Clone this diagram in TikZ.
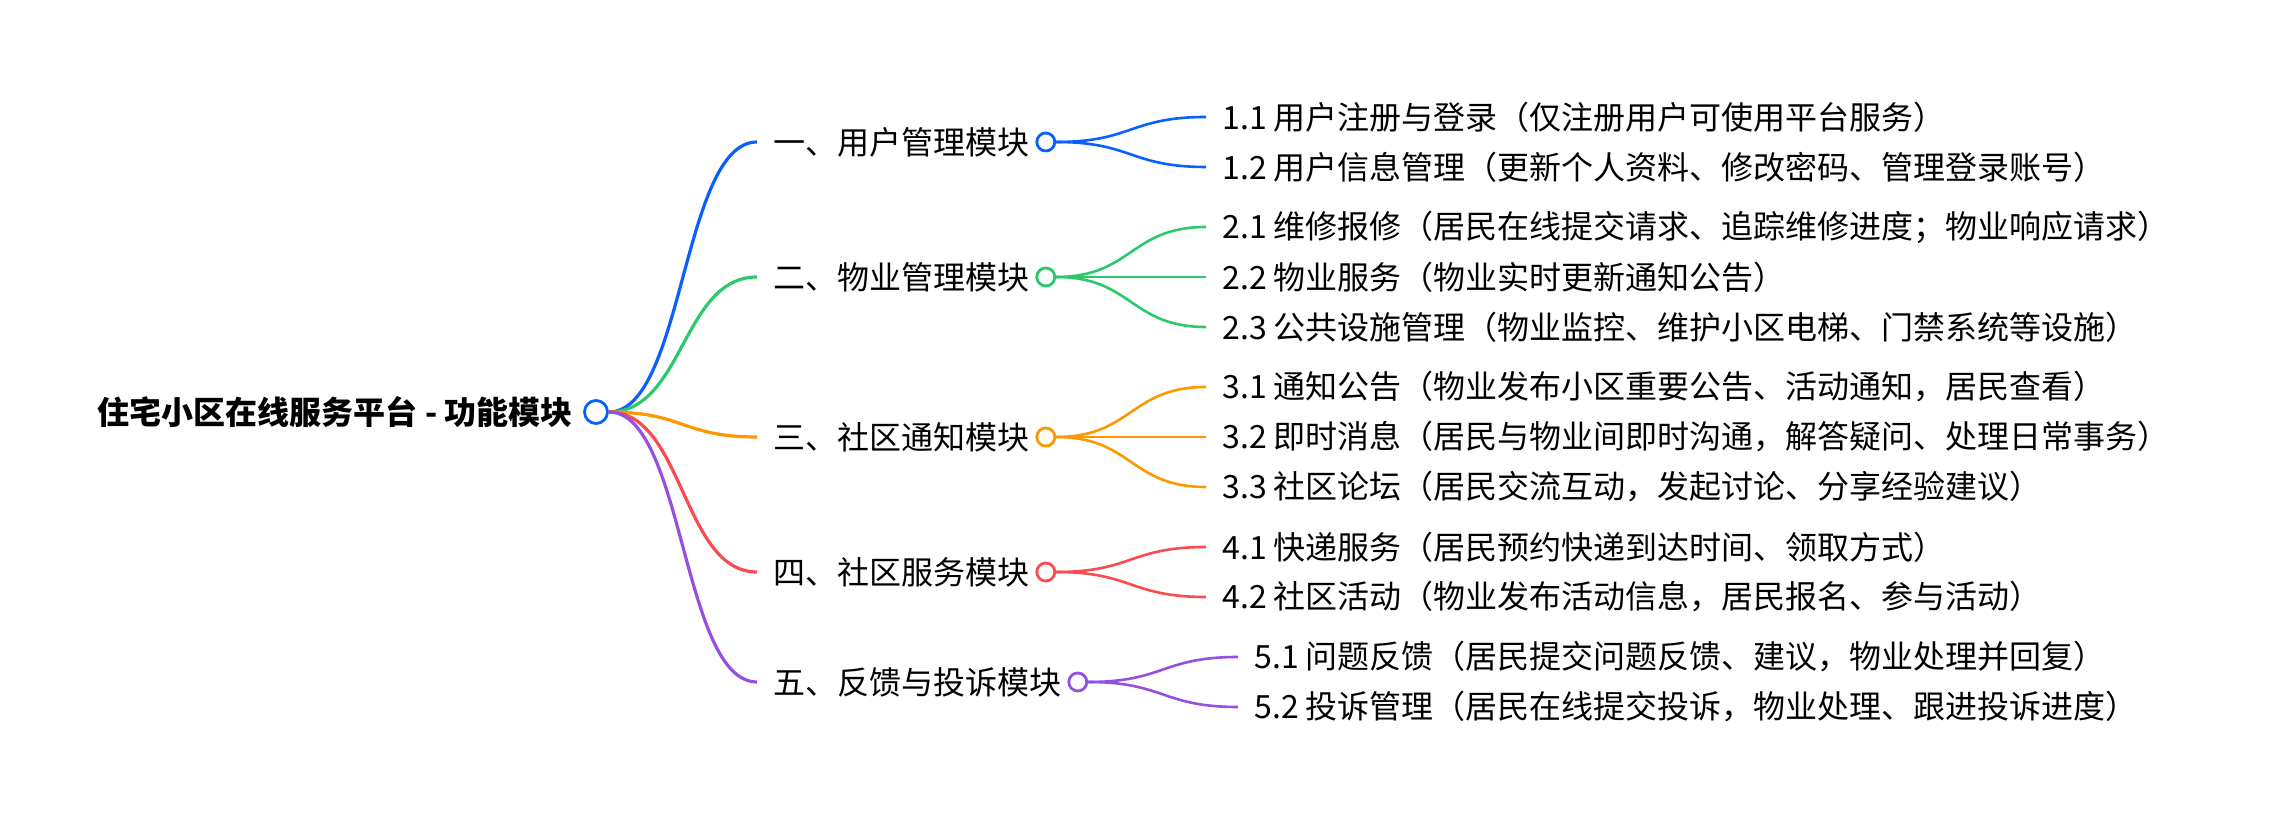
\documentclass[tikz,border=0pt]{standalone}
\usepackage{fontspec}
\newfontfamily\cjk{Noto Sans CJK SC}
\definecolor{mmblue}{RGB}{10,95,255}
\definecolor{mmgreen}{RGB}{44,201,107}
\definecolor{mmorange}{RGB}{255,152,0}
\definecolor{mmred}{RGB}{250,75,80}
\definecolor{mmpurple}{RGB}{150,80,225}
\usetikzlibrary{positioning}

\begin{document}
\begin{tikzpicture}[x=0.5pt,y=-0.5pt,
  every node/.style={font=\cjk\fontsize{16}{19}\selectfont},
  topic/.style={inner sep=0pt,inner xsep=8pt,anchor=west},
  leaf/.style={inner sep=0pt,inner xsep=8pt,anchor=west},
  dot/.style={circle,draw=#1,line width=1.4pt,fill=white,minimum size=9pt,inner sep=0pt},
  trunk/.style={draw=#1,line width=1.6pt},
  twig/.style={draw=#1,line width=1.3pt}]
  \useasboundingbox (0,0) rectangle (2272,822);
  % Root
  \node[dot=mmblue,minimum size=11.5pt] (root) at (596,412) {};
  \node[left=5pt of root,inner sep=0pt,font=\cjk\bfseries\fontsize{16}{19}\selectfont] (title) {住宅小区在线服务平台 - 功能模块};
  % Modules
  \node[topic] (m1) at (757,142) {一、用户管理模块};
  \node[dot=mmblue] (d1) at (m1.east) {};
  \node[topic] (m2) at (757,277) {二、物业管理模块};
  \node[dot=mmgreen] (d2) at (m2.east) {};
  \node[topic] (m3) at (757,437) {三、社区通知模块};
  \node[dot=mmorange] (d3) at (m3.east) {};
  \node[topic] (m4) at (757,572) {四、社区服务模块};
  \node[dot=mmred] (d4) at (m4.east) {};
  \node[topic] (m5) at (757,682) {五、反馈与投诉模块};
  \node[dot=mmpurple] (d5) at (m5.east) {};
  % Module 1
  \node[leaf] (m11) at (1206,117) {1.1 用户注册与登录（仅注册用户可使用平台服务）};
  \node[leaf] (m12) at (1206,167) {1.2 用户信息管理（更新个人资料、修改密码、管理登录账号）};
  % Module 2
  \node[leaf] (m21) at (1206,227) {2.1 维修报修（居民在线提交请求、追踪维修进度；物业响应请求）};
  \node[leaf] (m22) at (1206,277) {2.2 物业服务（物业实时更新通知公告）};
  \node[leaf] (m23) at (1206,327) {2.3 公共设施管理（物业监控、维护小区电梯、门禁系统等设施）};
  % Module 3
  \node[leaf] (m31) at (1206,387) {3.1 通知公告（物业发布小区重要公告、活动通知，居民查看）};
  \node[leaf] (m32) at (1206,437) {3.2 即时消息（居民与物业间即时沟通，解答疑问、处理日常事务）};
  \node[leaf] (m33) at (1206,487) {3.3 社区论坛（居民交流互动，发起讨论、分享经验建议）};
  % Module 4
  \node[leaf] (m41) at (1206,547) {4.1 快递服务（居民预约快递到达时间、领取方式）};
  \node[leaf] (m42) at (1206,597) {4.2 社区活动（物业发布活动信息，居民报名、参与活动）};
  % Module 5
  \node[leaf] (m51) at (1238,657) {5.1 问题反馈（居民提交问题反馈、建议，物业处理并回复）};
  \node[leaf] (m52) at (1238,707) {5.2 投诉管理（居民在线提交投诉，物业处理、跟进投诉进度）};
  % Root branches
  \draw[trunk=mmblue] (root.east) .. controls +(75,0) and +(-75,0) .. (m1.west);
  \draw[trunk=mmgreen] (root.east) .. controls +(75,0) and +(-75,0) .. (m2.west);
  \draw[trunk=mmorange] (root.east) .. controls +(75,0) and +(-75,0) .. (m3.west);
  \draw[trunk=mmred] (root.east) .. controls +(75,0) and +(-75,0) .. (m4.west);
  \draw[trunk=mmpurple] (root.east) .. controls +(75,0) and +(-75,0) .. (m5.west);
  % Leaf branches
  \draw[twig=mmblue] (d1.east) .. controls +(76,0) and +(-76,0) .. (m11.west);
  \draw[twig=mmblue] (d1.east) .. controls +(76,0) and +(-76,0) .. (m12.west);
  \draw[twig=mmgreen] (d2.east) .. controls +(76,0) and +(-76,0) .. (m21.west);
  \draw[twig=mmgreen] (d2.east) .. controls +(76,0) and +(-76,0) .. (m22.west);
  \draw[twig=mmgreen] (d2.east) .. controls +(76,0) and +(-76,0) .. (m23.west);
  \draw[twig=mmorange] (d3.east) .. controls +(76,0) and +(-76,0) .. (m31.west);
  \draw[twig=mmorange] (d3.east) .. controls +(76,0) and +(-76,0) .. (m32.west);
  \draw[twig=mmorange] (d3.east) .. controls +(76,0) and +(-76,0) .. (m33.west);
  \draw[twig=mmred] (d4.east) .. controls +(76,0) and +(-76,0) .. (m41.west);
  \draw[twig=mmred] (d4.east) .. controls +(76,0) and +(-76,0) .. (m42.west);
  \draw[twig=mmpurple] (d5.east) .. controls +(76,0) and +(-76,0) .. (m51.west);
  \draw[twig=mmpurple] (d5.east) .. controls +(76,0) and +(-76,0) .. (m52.west);
\end{tikzpicture}
\end{document}
